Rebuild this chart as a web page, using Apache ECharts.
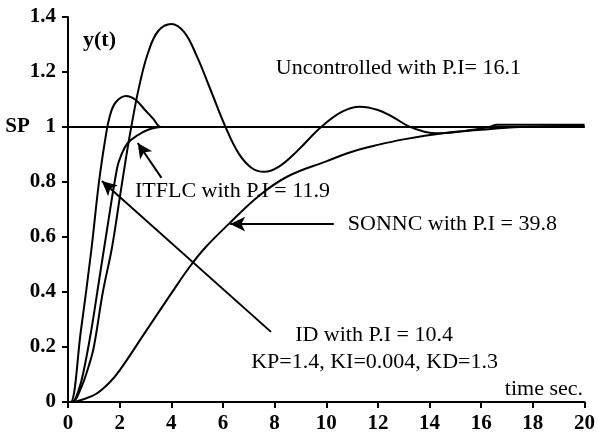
<!DOCTYPE html>
<html>
<head>
<meta charset="utf-8">
<script src="https://cdn.jsdelivr.net/npm/echarts@6/dist/echarts.min.js"></script>
<style>
  html, body { margin: 0; padding: 0; background: #fff; }
  #chart { width: 598px; height: 439px; }
</style>
</head>
<body>
<div id="chart"></div>
<script>
// Step responses (time in sec, output y(t))
const idTime = [0, 0.1, 0.5, 0.9, 1.2, 1.45, 1.62, 1.85, 2.25, 2.6, 3.0, 3.3, 3.6, 4, 8, 12, 16, 20]
const idValue = [0, 0, 0.26, 0.55, 0.8, 0.96, 1.04, 1.09, 1.113, 1.1, 1.06, 1.03, 1.0, 1.0, 1.0, 1.0, 1.0, 1.0]

const itflcTime = [0, 0.15, 0.4, 0.6, 0.9, 1.2, 1.5, 1.9, 2.05, 2.3, 2.7, 3.1, 3.6, 4, 8, 12, 16, 20]
const itflcValue = [0, 0, 0.04, 0.11, 0.26, 0.44, 0.62, 0.85, 0.895, 0.94, 0.97, 0.99, 1.0, 1.0, 1.0, 1.0, 1.0, 1.0]

const uncTime = [0, 0.15, 0.5, 0.8, 1.0, 1.35, 1.7, 2.0, 2.25, 2.45, 2.75, 3.1, 3.5, 4.0, 4.5, 5.0, 5.5, 6.1, 6.6, 7.1, 7.6, 8.2, 8.9, 9.8, 10.6, 11.3, 12.0, 12.6, 13.2, 13.8, 14.3, 15.3, 16.3, 16.6, 18, 20]
const uncValue = [0, 0, 0.05, 0.13, 0.2, 0.4, 0.56, 0.74, 0.89, 1.0, 1.145, 1.27, 1.35, 1.375, 1.345, 1.255, 1.14, 1.0, 0.905, 0.852, 0.837, 0.858, 0.915, 1.0, 1.055, 1.074, 1.062, 1.035, 1.002, 0.983, 0.977, 0.985, 1.0, 1.008, 1.008, 1.008]

const sonncTime = [0, 0.15, 0.6, 1.1, 1.6, 2.0, 3.0, 4.0, 4.7, 5.3, 6.2, 7.4, 8.5, 10, 11, 12, 13, 14.5, 16, 17.5, 20]
const sonncValue = [0, 0, 0.01, 0.03, 0.07, 0.115, 0.255, 0.395, 0.49, 0.56, 0.645, 0.75, 0.82, 0.875, 0.91, 0.935, 0.955, 0.977, 0.99, 1.0, 1.005]

const setPoint = 1
const timeRange = [0, 20]

// arrows pointing from the labels to the curves: [from, to] in data units
const arrows = [
  [[7.86, 0.255], [1.31, 0.804]],
  [[3.62, 0.815], [2.70, 0.942]],
  [[10.29, 0.647], [6.28, 0.647]]
]

const pairs = (t, v) => t.map((x, i) => [x, v[i]])

const FONT = '"Liberation Serif", "Times New Roman", serif'

const chart = echarts.init(document.getElementById('chart'))

const curve = (name, t, v) => ({
  name: name,
  type: 'line',
  data: pairs(t, v),
  smooth: 0.4,
  showSymbol: false,
  lineStyle: { color: '#000', width: 2 },
  silent: true
})

const text = (str, x, y, align, bold) => ({
  type: 'text',
  x: x,
  y: y,
  style: {
    text: str,
    fill: '#000',
    fontFamily: FONT,
    fontSize: 22,
    fontWeight: bold ? 'bold' : 'normal',
    align: align,
    verticalAlign: 'middle'
  }
})

const option = {
  animation: false,
  backgroundColor: '#fff',
  grid: { left: 68, right: 11, top: 17, bottom: 37 },
  xAxis: {
    type: 'value',
    min: timeRange[0],
    max: timeRange[1],
    interval: 2,
    axisLine: { show: true, lineStyle: { color: '#000', width: 2 } },
    axisTick: { show: true, length: 6, lineStyle: { color: '#000', width: 2 } },
    axisLabel: { color: '#000', fontFamily: FONT, fontSize: 21, fontWeight: 'bold', margin: 11 },
    splitLine: { show: false }
  },
  yAxis: {
    type: 'value',
    min: 0,
    max: 1.4,
    interval: 0.2,
    axisLine: { show: true, lineStyle: { color: '#000', width: 2 } },
    axisTick: { show: true, length: 6, lineStyle: { color: '#000', width: 2 } },
    axisLabel: {
      color: '#000', fontFamily: FONT, fontSize: 21, fontWeight: 'bold', margin: 12,
      formatter: v => (v === setPoint ? 'SP   1' : String(v))
    },
    splitLine: { show: false }
  },
  graphic: [
    text('y(t)', 83, 40, 'left', true),
    text('Uncontrolled with P.I= 16.1', 521, 68, 'right'),
    text('ITFLC with P.I = 11.9', 135, 191, 'left'),
    text('SONNC with P.I = 39.8', 557, 224, 'right'),
    text('ID with P.I = 10.4', 453, 335, 'right'),
    text('KP=1.4, KI=0.004, KD=1.3', 498, 362, 'right'),
    text('time sec.', 583, 389, 'right')
  ],
  series: [
    {
      name: 'SP',
      type: 'line',
      data: timeRange.map(t => [t, setPoint]),
      showSymbol: false,
      lineStyle: { color: '#000', width: 2 },
      silent: true,
      markLine: {
        silent: true,
        symbol: ['none', 'arrow'],
        symbolSize: [11, 15],
        label: { show: false },
        lineStyle: { color: '#000', width: 2, type: 'solid' },
        data: arrows.map(a => [{ coord: a[0] }, { coord: a[1] }])
      }
    },
    curve('Uncontrolled', uncTime, uncValue),
    curve('ITFLC', itflcTime, itflcValue),
    curve('SONNC', sonncTime, sonncValue),
    curve('ID', idTime, idValue)
  ]
}

chart.setOption(option)
window.addEventListener('resize', () => chart.resize())
</script>
</body>
</html>
